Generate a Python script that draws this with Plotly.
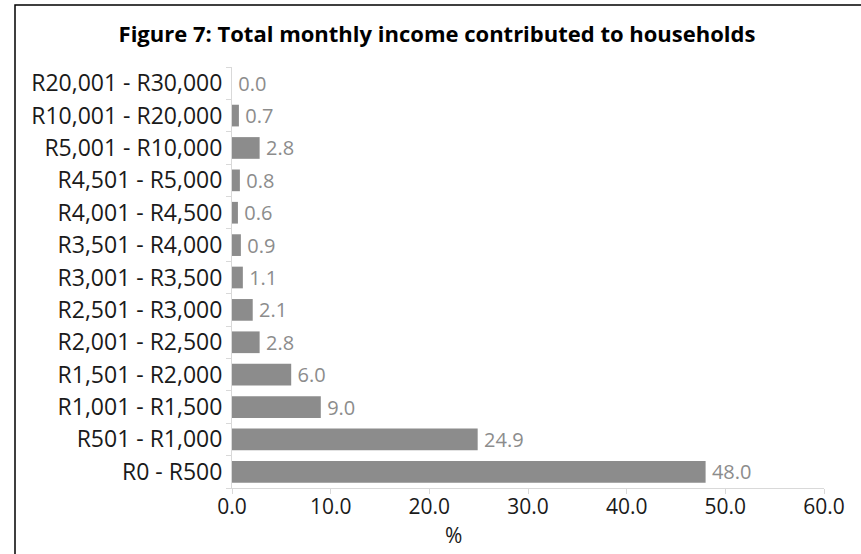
import plotly.graph_objects as go

# Income bands, bottom to top
income_bands = [
    "R0 - R500", "R501 - R1,000", "R1,001 - R1,500", "R1,501 - R2,000",
    "R2,001 - R2,500", "R2,501 - R3,000", "R3,001 - R3,500", "R3,501 - R4,000",
    "R4,001 - R4,500", "R4,501 - R5,000", "R5,001 - R10,000",
    "R10,001 - R20,000", "R20,001 - R30,000",
]
share_pct = [48.0, 24.9, 9.0, 6.0, 2.8, 2.1, 1.1, 0.9, 0.6, 0.8, 2.8, 0.7, 0.0]
x_ticks = [0, 10, 20, 30, 40, 50, 60]

W, H = 861, 554
L, R, T, B = 232, 37, 67, 66
pw, ph = W - L - R, H - T - B

FONT = "Open Sans"
TXT = 21

fig = go.Figure(go.Bar(
    x=share_pct, y=income_bands, orientation="h",
    marker=dict(color="#8c8c8c", line=dict(width=0)),
    text=[f"\u2009{v:.1f}" for v in share_pct], textposition="outside",
    constraintext="none",
    textfont=dict(family=FONT, size=20, color="#8c8c8c"),
    cliponaxis=False, hoverinfo="skip",
))

fig.update_layout(
    width=W, height=H,
    margin=dict(l=L, r=R, t=T, b=B, pad=0),
    paper_bgcolor="white", plot_bgcolor="white",
    bargap=0.33, showlegend=False,
    font=dict(family=FONT, size=TXT, color="#1a1a1a"),
    title=dict(
        text="<b>Figure 7: Total monthly income contributed to households</b>",
        x=437 / W, xanchor="center", xref="container",
        y=1 - 34 / H, yanchor="middle", yref="container",
        font=dict(family=FONT, size=22, color="#000000"),
    ),
    xaxis=dict(
        range=[0, 60], tickvals=x_ticks,
        ticktext=[f"{v:.1f}" for v in x_ticks],
        showgrid=False, zeroline=False,
        showline=True, linecolor="#d9d9d9", linewidth=1,
        ticks="outside", ticklen=5, tickcolor="#d9d9d9",
        ticklabelstandoff=-5,
        tickfont=dict(family=FONT, size=TXT, color="#1a1a1a"),
    ),
    yaxis=dict(
        showgrid=False, zeroline=False,
        showline=True, linecolor="#d9d9d9", linewidth=1,
        ticks="outside", ticklen=5, tickcolor="#d9d9d9",
        tickson="boundaries", ticklabelstandoff=4,
        tickfont=dict(family=FONT, size=23, color="#1a1a1a"),
    ),
    annotations=[dict(
        text="%", x=(453 - L) / pw, y=-(535 - (T + ph)) / ph,
        xref="paper", yref="paper", showarrow=False,
        xanchor="center", yanchor="middle",
        font=dict(family=FONT, size=TXT, color="#1a1a1a"),
    )],
    shapes=[dict(
        type="rect", xref="paper", yref="paper",
        x0=(15 - L) / pw, x1=(W + 20 - L) / pw,
        y0=-(H + 20 - (T + ph)) / ph, y1=((T + ph) - 5) / ph,
        line=dict(color="#000000", width=1.5), fillcolor="rgba(0,0,0,0)",
        layer="below",
    )],
)

fig.write_html("out.html")
